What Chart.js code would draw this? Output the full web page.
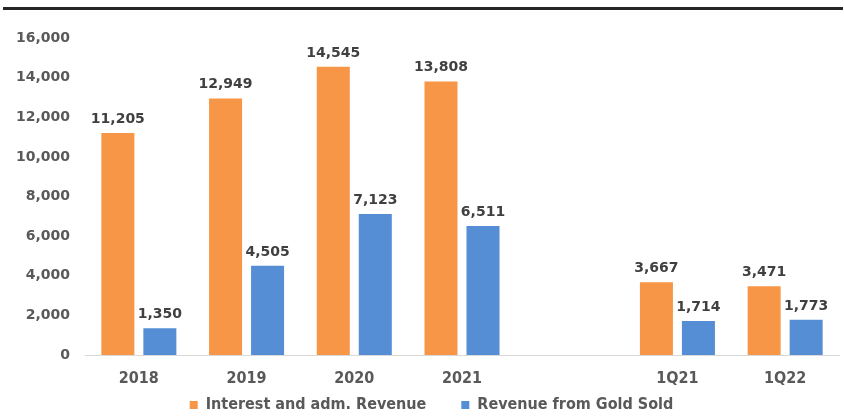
<!DOCTYPE html>
<html>
<head>
<meta charset="utf-8">
<script src="https://cdn.jsdelivr.net/npm/chart.js@4.4.1/dist/chart.umd.min.js"></script>
<style>
  html, body { margin: 0; padding: 0; background: #ffffff; }
  #wrap { width: 844px; height: 417px; position: relative; }
</style>
</head>
<body>
<div id="wrap"><canvas id="chart" width="844" height="417"></canvas></div>
<script>
// Periods (an empty slot separates the annual figures from the quarters)
const categories = ['2018', '2019', '2020', '2021', '', '1Q21', '1Q22'];
// Interest and administrative revenue
const interestRevenue = [11205, 12949, 14545, 13808, null, 3667, 3471];
// Revenue from gold sold
const goldRevenue = [1350, 4505, 7123, 6511, null, 1714, 1773];
// Value axis ticks
const yTicks = [0, 2000, 4000, 6000, 8000, 10000, 12000, 14000, 16000];

const fmt = v => v.toLocaleString('en-US');

const LEGEND_PAD = 35;
const LEGEND_FONT = 16;

// Thick rule across the top of the figure
const topRule = {
  id: 'topRule',
  beforeDraw(chart) {
    const ctx = chart.ctx;
    ctx.save();
    ctx.fillStyle = '#262626';
    ctx.fillRect(3, 7, 840, 3);
    ctx.restore();
  }
};

// Keep the legend compact vertically while its items stay widely spaced
const legendPlacement = {
  id: 'legendPlacement',
  afterInit(chart) {
    const legend = chart.legend;
    const fit = legend.fit;
    legend.fit = function () {
      fit.call(this);
      this.height = 26;
    };
  },
  afterLayout(chart) {
    const legend = chart.legend;
    legend.top = 405 - LEGEND_PAD - LEGEND_FONT / 2;
    legend.bottom = chart.height;
    legend.left += 24;
  }
};

// Value labels above each bar
const barValues = {
  id: 'barValues',
  afterDatasetsDraw(chart) {
    const ctx = chart.ctx;
    ctx.save();
    ctx.font = 'bold 14px "DejaVu Sans"';
    ctx.fillStyle = '#404040';
    ctx.textAlign = 'center';
    ctx.textBaseline = 'alphabetic';
    chart.data.datasets.forEach((ds, i) => {
      const meta = chart.getDatasetMeta(i);
      meta.data.forEach((bar, j) => {
        const v = ds.data[j];
        if (v === null || v === undefined) return;
        ctx.fillText(fmt(v), bar.x, bar.y - 10);
      });
    });
    ctx.restore();
  }
};

new Chart(document.getElementById('chart'), {
  type: 'bar',
  data: {
    labels: categories,
    datasets: [
      {
        label: 'Interest and adm. Revenue',
        data: interestRevenue,
        backgroundColor: '#F79646',
        barPercentage: 0.786,
        categoryPercentage: 0.78
      },
      {
        label: 'Revenue from Gold Sold',
        data: goldRevenue,
        backgroundColor: '#558ED5',
        barPercentage: 0.786,
        categoryPercentage: 0.78
      }
    ]
  },
  options: {
    responsive: false,
    animation: false,
    devicePixelRatio: 1,
    layout: { padding: { left: 0, right: 5, top: 38, bottom: 2 } },
    plugins: {
      tooltip: { enabled: false },
      legend: {
        position: 'bottom',
        labels: {
          boxWidth: 8,
          boxHeight: 8,
          padding: LEGEND_PAD,
          color: '#595959',
          font: { family: '"DejaVu Sans Condensed", "DejaVu Sans"', size: LEGEND_FONT, weight: 'bold' }
        }
      }
    },
    scales: {
      x: {
        grid: { display: false, drawTicks: false },
        border: { display: true, color: '#d9d9d9', width: 1 },
        ticks: {
          color: '#595959',
          padding: 14,
          font: { family: '"DejaVu Sans Condensed", "DejaVu Sans"', size: 16, weight: 'bold' }
        },
        afterFit(scale) { scale.height = 34; }
      },
      y: {
        min: 0,
        max: 16000,
        grid: { display: false, drawTicks: false },
        border: { display: false },
        afterBuildTicks(scale) { scale.ticks = yTicks.map(v => ({ value: v })); },
        ticks: {
          color: '#595959',
          padding: 15,
          font: { family: '"DejaVu Sans"', size: 14, weight: 'bold' },
          callback: v => fmt(v)
        },
        afterFit(scale) { scale.width = 85; }
      }
    }
  },
  plugins: [topRule, legendPlacement, barValues]
});
</script>
</body>
</html>
